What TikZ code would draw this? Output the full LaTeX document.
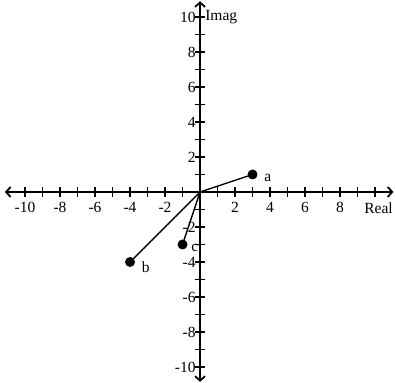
\documentclass[tikz,border=0pt]{standalone}
\usepackage{fontspec}
\setmainfont{Liberation Serif}
\usetikzlibrary{arrows.meta}

\begin{document}
\begin{tikzpicture}[x=17.5pt, y=17.5pt, font=\fontsize{15.5}{17}\selectfont,
        axis/.style={line width=2pt, {Straight Barb[length=4.5pt,width=10pt,line width=1.8pt]}-{Straight Barb[length=4.5pt,width=10pt,line width=1.8pt]}},
        tick/.style={line width=1.8pt},
        phasor/.style={line width=1.4pt},
        dot/.style={circle, fill=black, inner sep=0pt, minimum size=10pt}]
        \useasboundingbox (-11.43, -10.91) rectangle (11.14, 10.97);
        % axes
        \coordinate (O) at (0, 0);
        \draw[axis] (-11.15, 0) -- (11.05, 0);
        \draw[axis] (0, -10.85) -- (0, 10.9);
        \foreach \i in {-10,...,-1,1,2,...,10} {
            \draw[tick] (\i, -0.3) -- (\i, 0.3);
            \draw[tick] (-0.3, \i) -- (0.3, \i);
        }
        \foreach \i in {-10,-8,-6,-4,-2,2,4,6,8} {
            \node[below=7pt] at (\i, 0) {\i};
            \node[left=1pt] at (0, \i) {\i};
        }
        \node[left=1pt] at (0, 10) {10};
        \node[below=7pt] at (10.2, 0) {Real};
        \node[right=0pt] at (0.1, 10) {Imag};
        % points
        \node[dot] (a) at (3, 1) {};
        \node[dot] (b) at (-4, -4) {};
        \node[dot] (c) at (-1, -3) {};
        \draw[phasor] (O) -- (a.center);
        \draw[phasor] (O) -- (b.center);
        \draw[phasor] (O) -- (c.center);
        \node[right=3pt, yshift=-3pt] at (a.east) {a};
        \node[right=3pt, yshift=-5pt] at (b.east) {b};
        \node[right=0pt, yshift=-3pt] at (c.east) {c};
\end{tikzpicture}
\end{document}
